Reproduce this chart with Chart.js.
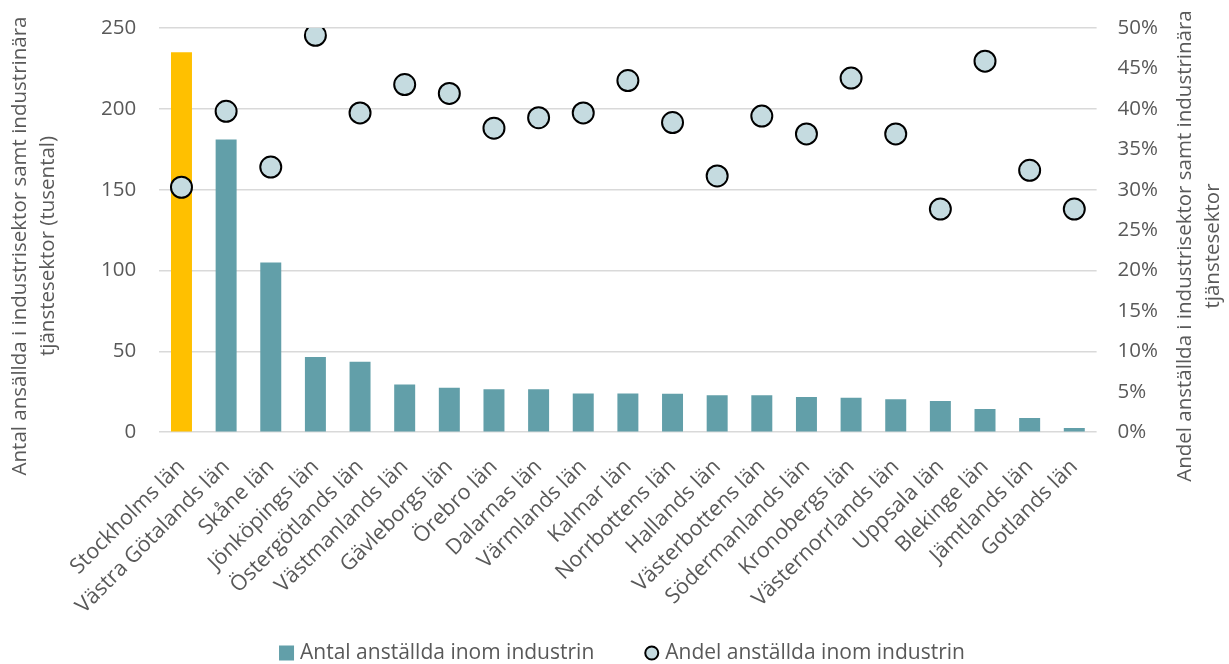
<!DOCTYPE html>
<html>
<head>
<meta charset="utf-8">
<script src="https://cdn.jsdelivr.net/npm/chart.js@4.4.0/dist/chart.umd.min.js"></script>
<style>
    html, body { margin: 0; padding: 0; background: #ffffff; }
    #wrap { width: 1229px; height: 664px; }
</style>
</head>
<body>
<div id="wrap"><canvas id="lanChart"></canvas></div>
<script>
var lan = ["Stockholms län", "Västra Götalands län", "Skåne län", "Jönköpings län", "Östergötlands län",
    "Västmanlands län", "Gävleborgs län", "Örebro län", "Dalarnas län", "Värmlands län", "Kalmar län",
    "Norrbottens län", "Hallands län", "Västerbottens län", "Södermanlands län", "Kronobergs län",
    "Västernorrlands län", "Uppsala län", "Blekinge län", "Jämtlands län", "Gotlands län"];

// tusental
var antal = [235, 181, 105, 46.5, 43.5, 29.5, 27.5, 26.5, 26.5, 24, 24,
    23.7, 22.8, 22.8, 21.8, 21.3, 20.3, 19.3, 14.3, 8.8, 2.6];

// procent
var andel = [30.3, 39.7, 32.8, 49.1, 39.5, 43.0, 41.9, 37.6, 38.9, 39.5, 43.5,
    38.3, 31.7, 39.1, 36.9, 43.8, 36.9, 27.6, 45.9, 32.4, 27.6];

var leftMax = 250, leftStep = 50;
var rightMax = 50, rightStep = 5;

var legendLabels = ["Antal anställda inom industrin", "Andel anställda inom industrin"];
var leftTitle = ["Antal ansällda i industrisektor samt industrinära", "tjänstesektor (tusental)"];
var rightTitle = ["Andel anställda i industrisektor samt industrinära", "tjänstesektor"];

var TEAL = "#629fa9";
var YELLOW = "#ffc000";
var DOT = "#c5dbe0";
var TEXT = "#595959";
var GRID = "#d9d9d9";
var FONT = "'Open Sans', 'Noto Sans', sans-serif";

var barColors = lan.map(function (name, i) {
    return i == 0 ? YELLOW : TEAL;
});

// both axis titles read bottom-to-top, two lines each
function drawTitle(ctx, lines, x, y) {
    for (var i = 0; i < lines.length; i++) {
        ctx.save();
        ctx.translate(x + i * 28.5, y);
        ctx.rotate(-Math.PI / 2);
        ctx.fillText(lines[i], 0, 0);
        ctx.restore();
    }
}

var axisTitlePlugin = {
    id: "axisTitles",
    afterDraw: function (chart) {
        var ctx = chart.ctx;
        ctx.save();
        ctx.fillStyle = TEXT;
        ctx.font = "20.5px " + FONT;
        ctx.textAlign = "center";
        ctx.textBaseline = "middle";
        drawTitle(ctx, leftTitle, 20, 246);
        drawTitle(ctx, rightTitle, chart.width - 44, 246);
        ctx.restore();
    }
};

var legendPlugin = {
    id: "bottomLegend",
    afterDraw: function (chart) {
        var ctx = chart.ctx;
        ctx.save();
        ctx.font = "21px " + FONT;
        ctx.textBaseline = "middle";
        ctx.textAlign = "left";
        var gap = 50, box = 15, txtGap = 6;
        var w0 = ctx.measureText(legendLabels[0]).width;
        var w1 = ctx.measureText(legendLabels[1]).width;
        var total = box + txtGap + w0 + gap + box + txtGap + w1;
        var x = 622 - total / 2;
        var y = chart.height - 11;

        ctx.fillStyle = TEAL;
        ctx.fillRect(x, y - box / 2, box, box);
        ctx.fillStyle = TEXT;
        ctx.fillText(legendLabels[0], x + box + txtGap, y);

        x += box + txtGap + w0 + gap;
        ctx.beginPath();
        ctx.arc(x + box / 2, y, 6.5, 0, Math.PI * 2);
        ctx.fillStyle = DOT;
        ctx.fill();
        ctx.lineWidth = 2;
        ctx.strokeStyle = "#000000";
        ctx.stroke();
        ctx.fillStyle = TEXT;
        ctx.fillText(legendLabels[1], x + box + txtGap, y);
        ctx.restore();
    }
};

// keep the tick padding as a side gap only, not above/below the plot
function trimPadding(scale) {
    scale.paddingTop = 0;
    scale.paddingBottom = 0;
}

var ctx = document.getElementById("lanChart").getContext("2d");
var lanChart = new Chart(ctx, {
    type: "bar",
    data: {
        labels: lan,
        datasets: [{
            type: "line",
            label: legendLabels[1],
            data: andel,
            yAxisID: "y1",
            showLine: false,
            pointRadius: 10.5,
            pointHoverRadius: 10.5,
            pointBorderWidth: 2,
            pointBackgroundColor: DOT,
            pointBorderColor: "#000000",
            order: 0
        }, {
            type: "bar",
            label: legendLabels[0],
            data: antal,
            yAxisID: "y",
            backgroundColor: barColors,
            barPercentage: 0.47,
            categoryPercentage: 1.0,
            order: 1
        }]
    },
    options: {
        responsive: true,
        maintainAspectRatio: false,
        animation: false,
        layout: {
            padding: { top: 28, right: 50, bottom: 31, left: 78 }
        },
        plugins: {
            legend: { display: false },
            tooltip: { enabled: false }
        },
        scales: {
            x: {
                grid: { display: false },
                border: { display: false },
                ticks: {
                    color: TEXT,
                    font: { family: FONT, size: 21.5 },
                    maxRotation: 45,
                    minRotation: 45,
                    autoSkip: false,
                    padding: 14
                }
            },
            y: {
                position: "left",
                min: 0,
                max: leftMax,
                afterFit: trimPadding,
                grid: { color: GRID, lineWidth: 1.5, drawTicks: false },
                border: { display: false },
                ticks: {
                    stepSize: leftStep,
                    color: TEXT,
                    font: { family: FONT, size: 20.5 },
                    padding: 23
                }
            },
            y1: {
                position: "right",
                min: 0,
                max: rightMax,
                afterFit: trimPadding,
                grid: { display: false, drawTicks: false },
                border: { display: false },
                ticks: {
                    stepSize: rightStep,
                    color: TEXT,
                    font: { family: FONT, size: 20.5 },
                    padding: 21,
                    callback: function (value) {
                        return value + "%";
                    }
                }
            }
        }
    },
    plugins: [axisTitlePlugin, legendPlugin]
});
</script>
</body>
</html>
